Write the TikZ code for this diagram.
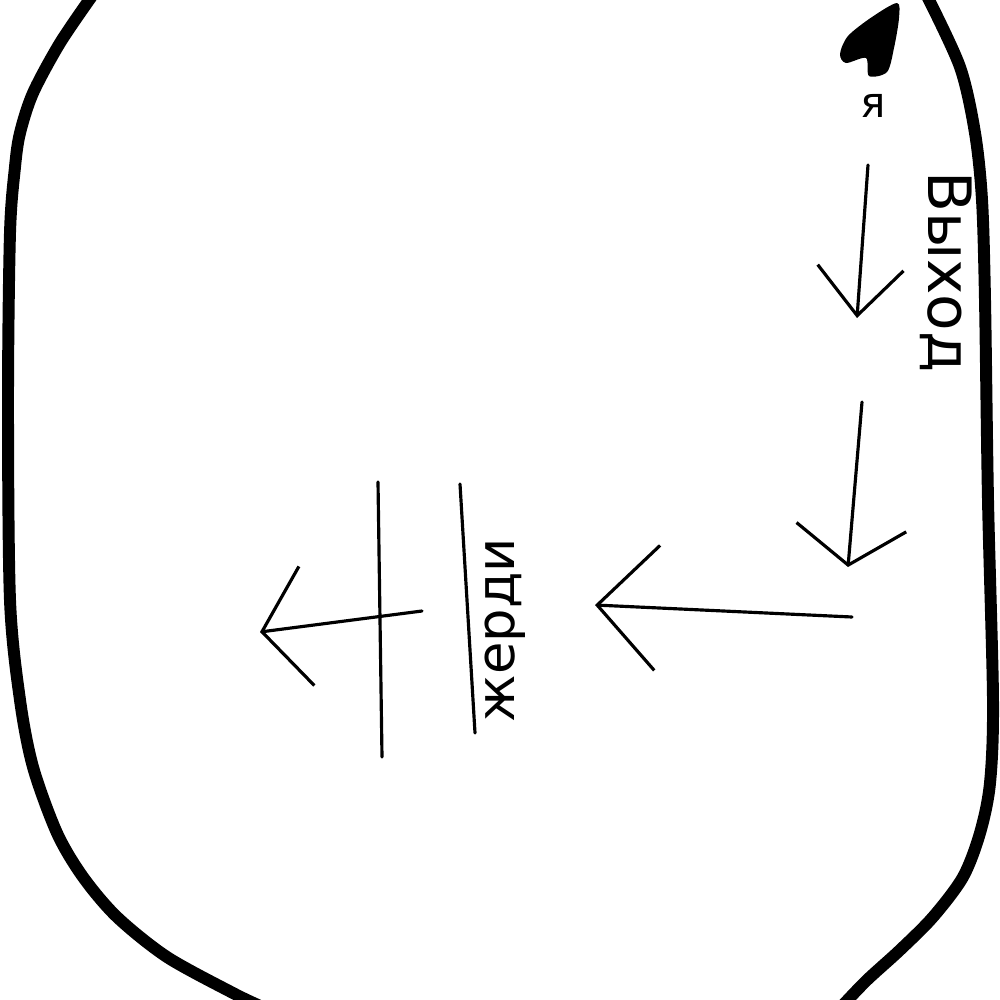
\documentclass[tikz,border=0pt]{standalone}
\usepackage{fontspec}
\setmainfont{DejaVu Sans}
\usetikzlibrary{arrows.meta}
\tikzset{
  wall/.style={line width=3.4pt,line cap=round,line join=round},
  pen/.style={line width=0.9pt,line cap=round},
  barb/.style 2 args={-{Straight Barb[length=#1,width=#2]}},
}
\begin{document}
\begin{tikzpicture}[x=0.01cm,y=-0.01cm]
		\useasboundingbox (0,0) rectangle (1000,1000);
		\clip (0,0) rectangle (1000,1000);
		% the outline, open at top and bottom
		\draw[wall] plot[smooth] coordinates {(92,-4) (60,43) (33,93) (20,133) (15,167) (10,233) (8,400) (10,600) (20,700) (33,767) (57,833) (83,877) (117,917) (167,957) (233,993) (258,1005)};
		\draw[wall] plot[smooth] coordinates {(927,-4) (960,67) (975,133) (982,200) (985,300) (988,500) (993,700) (990,783) (980,833) (963,877) (933,917) (900,950) (867,980) (843,1005)};
		% me
		\fill plot[smooth cycle] coordinates {(897,3) (872,17) (848,36) (840,54) (846,63) (866,58) (869,76) (887,72) (894,48) (899,18)};
		\node[font=\fontsize{12}{12}\selectfont] (me) at (873,106) {я};
		\node[rotate=-90,font=\fontsize{17}{17}\selectfont] (exit) at (946,272) {Выход};
		% the way out
		\coordinate (s1) at (868,165);
		\coordinate (e1) at (857,318);
		\coordinate (s2) at (862,402);
		\coordinate (e2) at (848,567);
		\coordinate (s3) at (852,617);
		\coordinate (e3) at (595,605);
		\coordinate (s4) at (422,611);
		\coordinate (e4) at (260,632);
		\draw[pen,barb={4.8mm}{8.6mm}] (s1) -- (e1);
		\draw[pen,barb={3.8mm}{11mm}] (s2) -- (e2);
		\draw[pen,barb={6mm}{12.5mm}] (s3) -- (e3);
		\draw[pen,barb={4.5mm}{12mm}] (s4) -- (e4);
		% poles
		\coordinate (p1) at (378,482);
		\coordinate (q1) at (382,757);
		\coordinate (p2) at (460,484);
		\coordinate (q2) at (475,733);
		\draw[pen] (p1) -- (q1);
		\draw[pen] (p2) -- (q2);
		\node[rotate=90,font=\fontsize{15}{15}\selectfont] (poles) at (505,630) {жерди};
\end{tikzpicture}
\end{document}
